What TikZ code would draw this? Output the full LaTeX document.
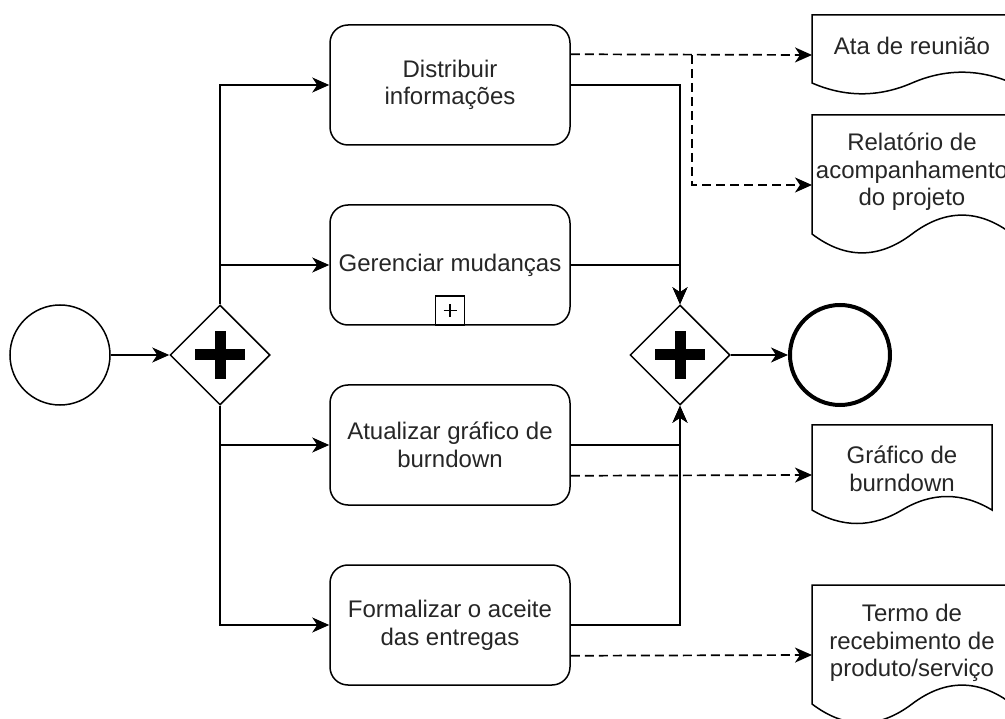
\documentclass[tikz,border=0pt]{standalone}
\usepackage{fontspec}
\setmainfont{Liberation Sans}
\usetikzlibrary{shapes.geometric,arrows.meta,calc}

% Document symbol: an invisible named box plus the outline with a wavy bottom edge
\newcommand\docshape[5]{% name, centre x, centre y, width, height
  \node[minimum width=#4pt, minimum height=#5pt, inner sep=0pt, outer sep=0pt] (#1) at (#2,#3) {};
  \pgfmathsetmacro\docL{#2-#4/2}%
  \pgfmathsetmacro\docR{#2+#4/2}%
  \pgfmathsetmacro\docM{#2}%
  \pgfmathsetmacro\docT{#3-#5/2}%
  \pgfmathsetmacro\docS{#3+#5/2-0.15*#5}%
  \pgfmathsetmacro\docU{\docS-0.18*#5}%
  \pgfmathsetmacro\docD{\docS+0.18*#5}%
  \pgfmathsetmacro\docW{#4/6}%
  \draw (\docL,\docT) -- (\docR,\docT) -- (\docR,\docS)
    .. controls ({\docR-\docW},\docU) and ({\docM+\docW},\docU) .. (\docM,\docS)
    .. controls ({\docM-\docW},\docD) and ({\docL+\docW},\docD) .. (\docL,\docS) -- cycle;
}

\begin{document}
\begin{tikzpicture}[x=1pt,y=-1pt,
  line width=1.5pt,
  every node/.style={font=\fontsize{24}{27.6}\selectfont, text=black!85},
  task/.style={draw, rounded corners=18pt, minimum width=240pt, minimum height=120pt,
    align=center, inner sep=0pt},
  event/.style={draw, circle, minimum size=100pt, inner sep=0pt},
  endevent/.style={event, line width=4pt},
  gateway/.style={draw, diamond, minimum width=100pt, minimum height=100pt, inner sep=0pt,
    path picture={
      \fill (path picture bounding box.center) ++(-25pt,-5.5pt) rectangle ++(50pt,11pt);
      \fill (path picture bounding box.center) ++(-5.5pt,-24pt) rectangle ++(11pt,48pt);
    }},
  submarker/.style={draw, minimum size=29pt, inner sep=0pt, anchor=south,
    path picture={
      \draw[line width=1.2pt] (path picture bounding box.center) ++(-6.5pt,0pt) -- ++(13pt,0pt);
      \draw[line width=1.2pt] (path picture bounding box.center) ++(0pt,-6.5pt) -- ++(0pt,13pt);
    }},
  flow/.style={-{Stealth[length=17pt,width=15pt,inset=5pt]}},
  assoc/.style={flow, line width=1.7pt, dash pattern=on 9pt off 5pt},
  doclabel/.style={align=center, inner sep=0pt}
]
\useasboundingbox (0,0) rectangle (1005,719);
\clip (0,0) rectangle (1005,719);

% events and gateways
\node[event] (start) at (60,355) {};
\node[gateway] (fork) at (220,355) {};
\node[gateway] (join) at (680,355) {};
\node[endevent] (end) at (840,355) {};

% tasks
\node[task] (t1) at (450,85) {Distribuir\\informações};
\node[task] (t2) at (450,265) {Gerenciar mudanças};
\node[submarker] (t2m) at (t2.south) {};
\node[task] (t3) at (450,445) {Atualizar gráfico de\\burndown};
\node[task] (t4) at (450,625) {Formalizar o aceite\\das entregas};

% documents
\docshape{d1}{912}{55}{200}{80}
\node[doclabel] at (912,46) {Ata de reunião};
\docshape{d2}{912}{185}{200}{140}
\node[doclabel] at (912,172) {Relatório de\\acompanhamento\\do projeto};
\docshape{d3}{902}{475}{180}{100}
\node[doclabel] at (902,469) {Gráfico de\\burndown};
\docshape{d4}{912}{655}{200}{140}
\node[doclabel] at (912,643) {Termo de\\recebimento de\\produto/serviço};

% sequence flows
\draw[flow] (start) -- (fork);
\draw[flow] (fork.north) |- (t1.west);
\draw[flow] (fork.north) |- (t2.west);
\draw[flow] (fork.south) |- (t3.west);
\draw[flow] (fork.south) |- (t4.west);
\draw[flow] (t1.east) -| (join.north);
\draw[flow] (t2.east) -| (join.north);
\draw[flow] (t3.east) -| (join.south);
\draw[flow] (t4.east) -| (join.south);
\draw[flow] (join) -- (end);

% data associations
\coordinate (t1o) at ([yshift=-30pt]t1.north east);
\coordinate (split) at (692,55);
\coordinate (t3o) at ([yshift=30pt]t3.south east);
\coordinate (t4o) at ([yshift=30pt]t4.south east);
\draw[assoc] (t1o) -- (d1.west);
\draw[assoc] (split) |- (d2.west);
\draw[assoc] (t3o) -- (d3.west);
\draw[assoc] (t4o) -- (d4.west);
\end{tikzpicture}
\end{document}
